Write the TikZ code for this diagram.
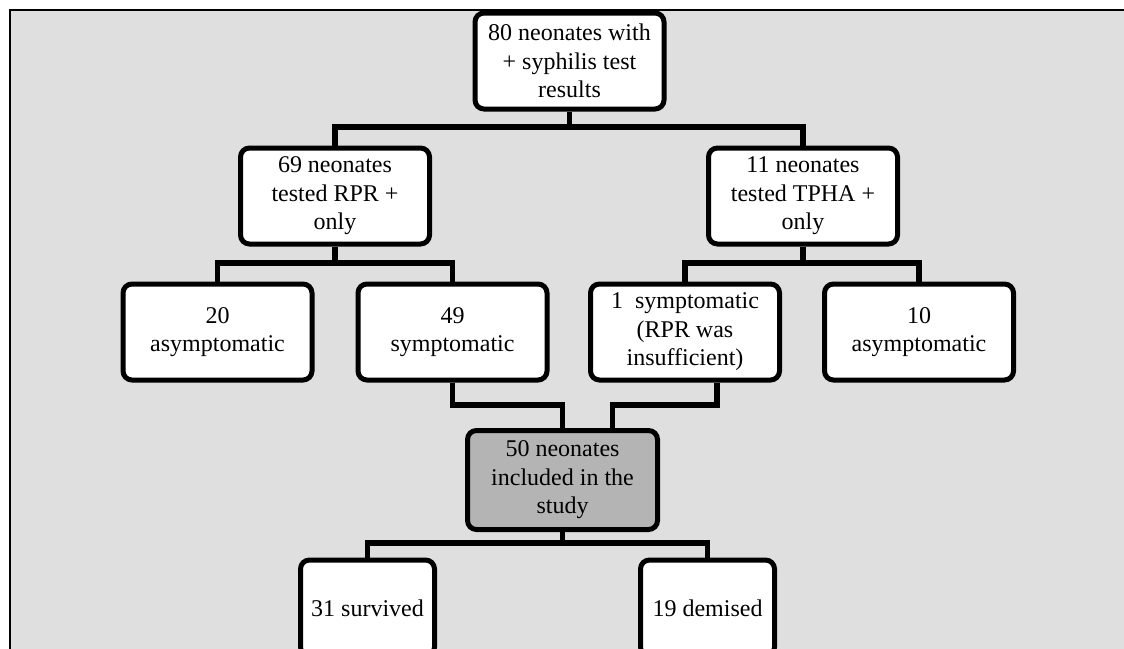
\documentclass[tikz,border=0pt]{standalone}
\usepackage{fontspec}
\setmainfont{Liberation Serif}
\definecolor{panelgray}{RGB}{223,223,223}
\definecolor{keygray}{RGB}{180,180,180}
\begin{document}
\begin{tikzpicture}[x=1pt,y=-1pt,
  flowbox/.style={draw=black, line width=5pt, fill=white, rounded corners=9pt,
    minimum width=189pt, minimum height=96pt, inner sep=0pt, align=center,
    font=\fontsize{24}{28.5}\selectfont},
  keybox/.style={flowbox, fill=keygray, minimum width=190pt, minimum height=99pt},
  endbox/.style={flowbox, minimum width=134pt, minimum height=96pt},
  link/.style={draw=black, line width=5.5pt, line join=miter}]
\useasboundingbox (0,0) rectangle (1124,648);
\clip (0,0) rectangle (1124,648);

% panel
\fill[panelgray] (10,10) rectangle (1130,660);
\draw[line width=2.5pt] (10,660) -- (10,10) -- (1130,10);

% bus levels
\coordinate (busA) at (0,127);
\coordinate (busB) at (0,263);
\coordinate (busC) at (0,405);
\coordinate (busD) at (0,543);

% boxes
\node[flowbox] (top)  at (569.5,61) {80 neonates with\\+ syphilis test\\results};
\node[flowbox] (rpr)  at (335,196)  {69 neonates\\tested RPR +\\only};
\node[flowbox] (tpha) at (803,196)  {11 neonates\\tested TPHA +\\only};
\node[flowbox] (a20)  at (217.5,332) {20\\asymptomatic};
\node[flowbox] (s49)  at (452.5,332) {49\\symptomatic};
\node[flowbox] (s1)   at (685,332)  {1~ symptomatic\\(RPR was\\insufficient)};
\node[flowbox] (a10)  at (919,332)  {10\\asymptomatic};
\node[keybox]  (inc)  at (562.5,480) {50 neonates\\included in the\\study};
\node[endbox]  (surv) at (367.5,608) {31 survived};
\node[endbox]  (dem)  at (707.5,608) {19 demised};

% connectors
\draw[link] (top.south) -- (top.south |- busA);
\draw[link] (rpr.north) -- (rpr.north |- busA) -- (tpha.north |- busA) -- (tpha.north);

\draw[link] (rpr.south) -- (rpr.south |- busB);
\draw[link] (a20.north) -- (a20.north |- busB) -- (s49.north |- busB) -- (s49.north);
\draw[link] (tpha.south) -- (tpha.south |- busB);
\draw[link] (s1.north) -- (s1.north |- busB) -- (a10.north |- busB) -- (a10.north);

\draw[link] (s49.south) -- (s49.south |- busC) -- (inc.north |- busC) -- (inc.north);
\draw[link] ([xshift=32pt]s1.south) -- ([xshift=32pt]s1.south |- busC)
  -- ([xshift=50pt]inc.north |- busC) -- ([xshift=50pt]inc.north);

\draw[link] (inc.south) -- (inc.south |- busD);
\draw[link] (surv.north) -- (surv.north |- busD) -- (dem.north |- busD) -- (dem.north);
\end{tikzpicture}
\end{document}
